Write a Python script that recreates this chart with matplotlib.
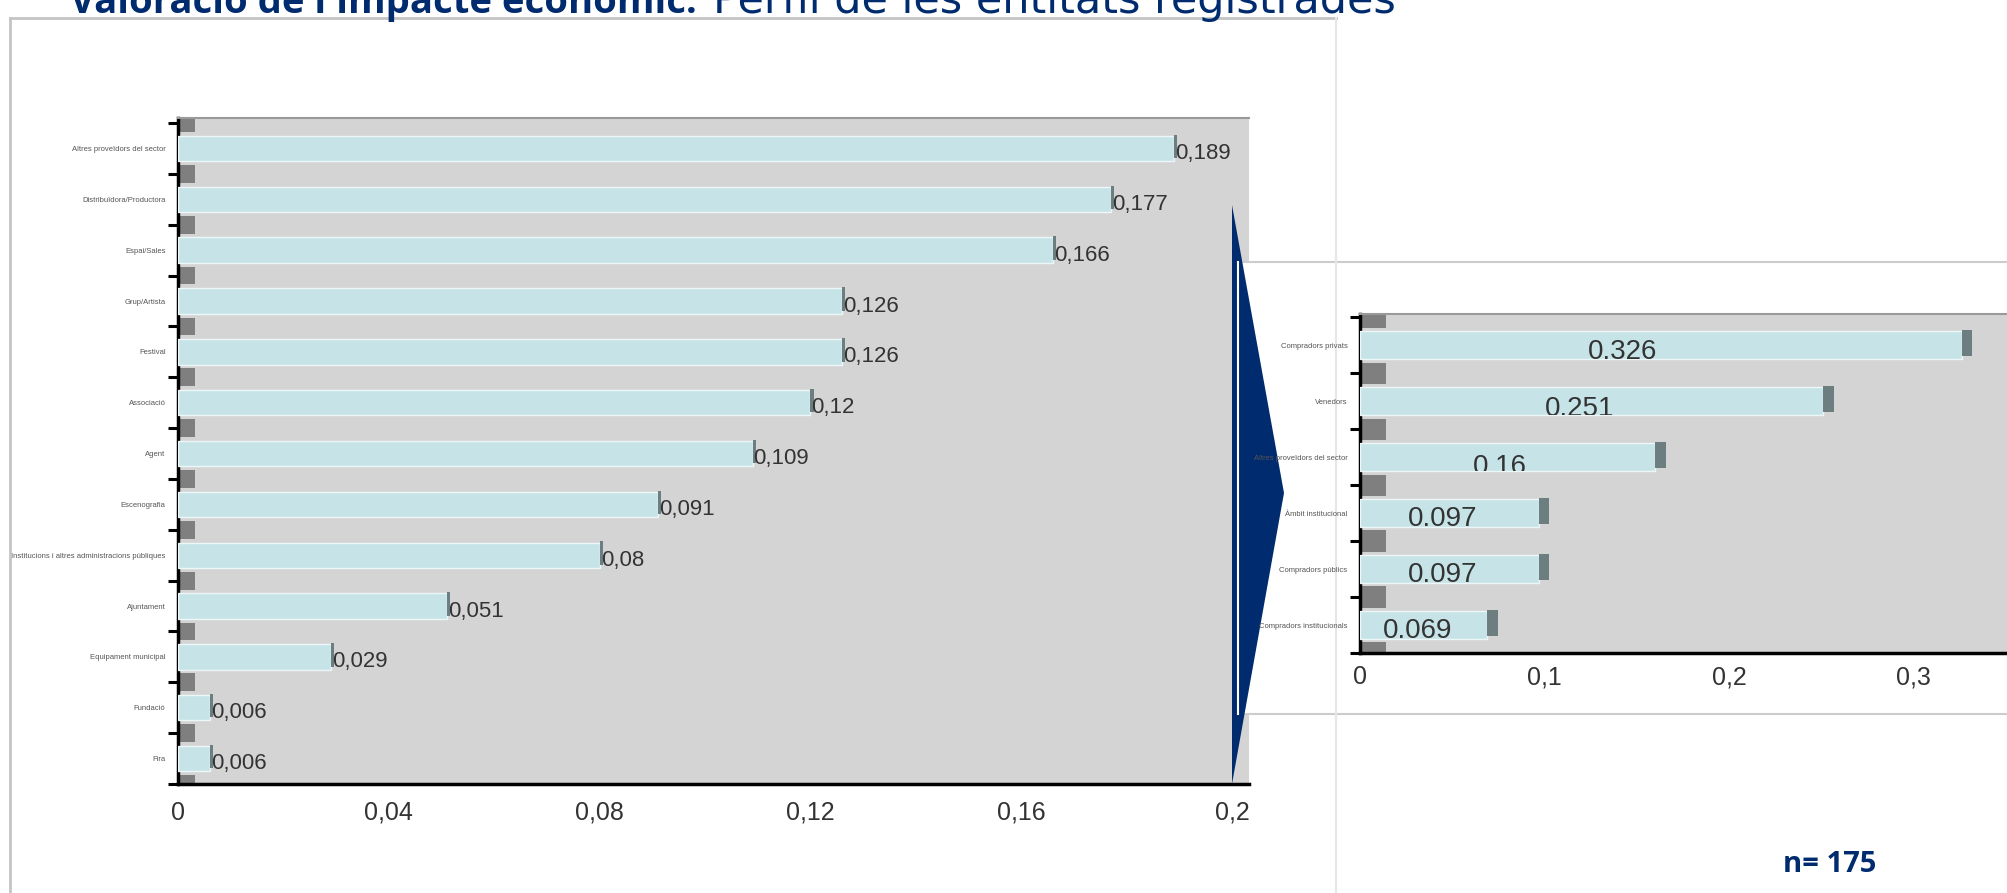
import matplotlib
matplotlib.use("AGG")
import numpy as np
from matplotlib import pyplot as plt
from matplotlib.patches import Rectangle, Polygon
from matplotlib.lines import Line2D
from matplotlib.transforms import Affine2D, TransformedBbox

plt.rcParams['font.family'] = ['Liberation Sans', 'DejaVu Sans']

# left chart: all entity types
left_cats = ["Altres proveïdors del sector", "Distribuïdora/Productora", "Espai/Sales",
             "Grup/Artista", "Festival", "Associació", "Agent", "Escenografia",
             "Institucions i altres administracions públiques", "Ajuntament",
             "Equipament municipal", "Fundació", "Fira"]
left_vals = [0.189, 0.177, 0.166, 0.126, 0.126, 0.12, 0.109, 0.091, 0.08, 0.051, 0.029, 0.006, 0.006]
left_labels = ["0,189", "0,177", "0,166", "0,126", "0,126", "0,12", "0,109", "0,091",
               "0,08", "0,051", "0,029", "0,006", "0,006"]
left_ticks = [0, 0.04, 0.08, 0.12, 0.16, 0.2]
left_tick_labels = ["0", "0,04", "0,08", "0,12", "0,16", "0,2"]

# right chart: grouped profile
right_cats = ["Compradors privats", "Venedors", "Altres proveïdors del sector",
              "Àmbit institucional", "Compradors públics", "Compradors institucionals"]
right_vals = [0.326, 0.251, 0.16, 0.097, 0.097, 0.069]
right_labels = ["0.326", "0.251", "0.16", "0.097", "0.097", "0.069"]
right_ticks = [0, 0.1, 0.2, 0.3]
right_tick_labels = ["0", "0,1", "0,2", "0,3"]

# where the (oddly placed) labels sit on the right chart
right_label_x = [0.142, 0.119, 0.076, 0.0445, 0.0445, 0.031]
right_label_dy = [0.13, 0.16, 0.2, 0.12, 0.12, 0.12]

title_bold = "Valoració de l'impacte econòmic:"
title_rest = "Perfil de les entitats registrades"
n_text = "n= 175"

NAVY = "#002b6e"
BG = "#d4d4d4"
BAR = "#c6e4e8"
CAP = "#6c7e80"
BLOCK = "#7f7f7f"
W, H = 2008, 893

fig = plt.figure(figsize=(W / 100, H / 100), dpi=100)
pix = Affine2D().scale(1 / W, -1 / H).translate(0, 1) + fig.transFigure


def ax_rect(x0, y0, x1, y1):
    return [x0 / W, 1 - y1 / H, (x1 - x0) / W, (y1 - y0) / H]


def draw_chart(ax, cats, vals, xmax, ylim, cap_w, block_w, block_h, ticks, tick_labels):
    n = len(cats)
    pos = np.arange(n)
    ax.set_facecolor(BG)
    bounds = np.arange(-1, n) + 0.5
    ax.barh(bounds, block_w, height=block_h, color=BLOCK, zorder=2)
    bars = ax.barh(pos, vals, height=0.5, color=BAR, edgecolor="#eef7f8", lw=1, zorder=3)
    ax.barh(pos - 0.04, cap_w, left=vals, height=0.46, color=CAP, zorder=4)
    ax.set_xlim(0, xmax)
    ax.set_ylim(*ylim)
    ax.set_yticks(bounds)
    ax.set_yticklabels([])
    ax.tick_params(axis="y", which="major", length=7, width=2.2, color="black", direction="out")
    ax.set_yticks(pos, labels=cats, minor=True)
    ax.tick_params(axis="y", which="minor", length=0, pad=9, labelsize=5.5, labelcolor="#555555")
    ax.set_xticks(ticks, labels=tick_labels)
    ax.tick_params(axis="x", length=0, labelsize=18, labelcolor="#333333")
    for s in ["left", "bottom"]:
        ax.spines[s].set_linewidth(2.5)
        ax.spines[s].set_color("black")
    ax.spines["top"].set_color("#9a9a9a")
    ax.spines["top"].set_linewidth(1.5)
    ax.spines["right"].set_visible(False)
    return bars


# left chart
ax1 = fig.add_axes(ax_rect(178, 118, 1249, 784))
ax1.set_zorder(1)
draw_chart(ax1, left_cats, left_vals, 0.2032, (12.46, -0.6), 0.0006, 0.0032, 0.35,
           left_ticks, left_tick_labels)
ax1.tick_params(axis="x", pad=12)
for i, (v, lab) in enumerate(zip(left_vals, left_labels)):
    ax1.text(v + 0.0002, i + 0.1, lab, ha="left", va="center", fontsize=16,
             color="#333333", zorder=5)

# frame of the zoomed chart
fig.add_artist(Rectangle((1238, 262), 800, 452, transform=pix, facecolor="white",
                         edgecolor="#cccccc", lw=1.5, zorder=2))
# navy arrow
fig.add_artist(Polygon([(1232, 205), (1284, 493), (1232, 784)], closed=True,
                       transform=pix, facecolor=NAVY, edgecolor="none", zorder=3))
fig.add_artist(Line2D([1238, 1238], [262, 714], transform=pix, color="white", lw=1.5, zorder=4))

# slide border
fig.add_artist(Line2D([10, 1336], [18, 18], transform=pix, color="#c4c4c4", lw=2, zorder=4))
fig.add_artist(Line2D([10, 10], [18, H], transform=pix, color="#c4c4c4", lw=2, zorder=4))
fig.add_artist(Line2D([1336, 1336], [18, H], transform=pix, color="#e6e6e6", lw=1.5, zorder=4))

# right chart
ax2 = fig.add_axes(ax_rect(1360, 314, W, 653))
ax2.set_zorder(5)
bars2 = draw_chart(ax2, right_cats, right_vals, 0.351, (5.4, -0.56), 0.0055, 0.014, 0.38,
                   right_ticks, right_tick_labels)
ax2.tick_params(axis="x", pad=9)
for i, (lab, lx, dy, b) in enumerate(zip(right_labels, right_label_x, right_label_dy, bars2)):
    t = ax2.text(lx, i - 0.25 + dy, lab, ha="center", va="top", fontsize=20,
                 color="#333333", zorder=6)
    # labels are cut at the lower edge of their bar
    t.set_clip_box(TransformedBbox(b.get_bbox(), ax2.transData))
    t.set_clip_on(True)

# title (top cut off as in the slide)
fig.text(70, 13, title_bold, transform=pix, fontsize=27.5, fontweight="bold",
         color=NAVY, va="baseline", family=["Open Sans", "DejaVu Sans"], zorder=6)
fig.text(713, 13, title_rest, transform=pix, fontsize=31, color=NAVY,
         va="baseline", family=["DejaVu Sans"], zorder=6)

fig.text(1830, 864, n_text, transform=pix, fontsize=21, fontweight="bold", color=NAVY,
         ha="center", va="center", family=["Open Sans", "DejaVu Sans"])

fig.savefig("out.png", dpi=100)
